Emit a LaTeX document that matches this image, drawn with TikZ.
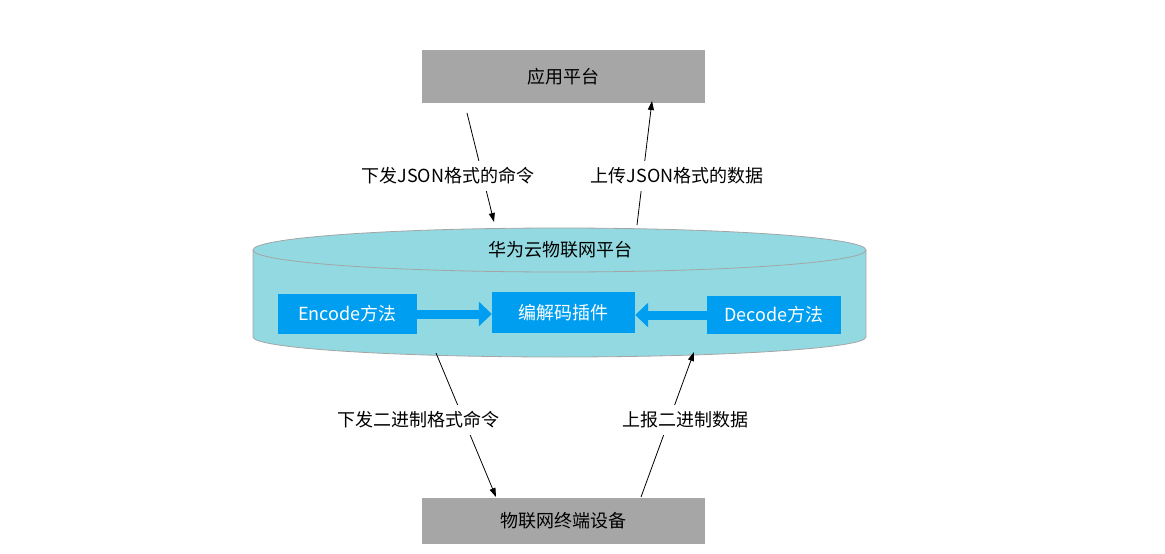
\documentclass[tikz,border=0pt]{standalone}
\usepackage{fontspec}
\setmainfont{Noto Sans CJK SC}
\usetikzlibrary{arrows.meta}
\definecolor{boxgray}{RGB}{166,166,166}
\definecolor{cylfill}{RGB}{146,217,225}
\definecolor{cyledge}{RGB}{165,165,165}
\definecolor{codeblue}{RGB}{0,158,240}

\begin{document}
\begin{tikzpicture}[x=1pt,y=-1pt,font=\fontsize{18}{21}\selectfont,
  greybox/.style={fill=boxgray,inner sep=0pt},
  bluebox/.style={fill=codeblue,text=white,inner sep=0pt},
  msg/.style={fill=white,inner xsep=2pt,inner ysep=7pt},
  link/.style={-{Triangle[length=9pt,width=6pt]},line width=0.8pt},
  fatarrow/.style={draw=codeblue,line width=9pt,-{Triangle[length=13pt,width=24pt]}}]
\useasboundingbox (0,0) rectangle (1165,554);
\fill[cylfill] (253,250) -- (253,337) arc[start angle=180,end angle=0,x radius=306.5,y radius=20] -- (866,250) -- cycle;
\draw[cyledge,line width=0.8pt] (253,250) -- (253,337) arc[start angle=180,end angle=0,x radius=306.5,y radius=20] -- (866,250);
\filldraw[fill=cylfill,draw=cyledge,line width=0.8pt] (559.5,250) ellipse[x radius=306.5,y radius=22];
\node (cloud) at (560,250) {华为云物联网平台};
\node[greybox,minimum width=283pt,minimum height=53pt] (app) at (563.5,76.5) {应用平台};
\node[greybox,minimum width=283pt,minimum height=46pt] (dev) at (563.5,521) {物联网终端设备};
\node[bluebox,minimum width=139pt,minimum height=40pt] (enc) at (347.5,314) {Encode方法};
\node[bluebox,minimum width=143pt,minimum height=41pt] (codec) at (563.5,312.5) {编解码插件};
\node[bluebox,minimum width=134pt,minimum height=38pt] (dec) at (774,315) {Decode方法};
\draw[fatarrow] (enc.east) -- (enc.east -| codec.west);
\draw[fatarrow] (dec.west) -- (dec.west -| codec.east);
\coordinate (downA) at (467,113);
\coordinate (downB) at (494,222);
\coordinate (upA) at (637,225);
\coordinate (upB) at (652,101);
\coordinate (binA) at (436,353);
\coordinate (binB) at (496,497);
\coordinate (repA) at (641,497);
\coordinate (repB) at (694,352);
\draw[link] (downA) -- (downB);
\draw[link] (upA) -- (upB);
\draw[link] (binA) -- (binB);
\draw[link] (repA) -- (repB);
\node[msg] (m1) at (448,176) {下发JSON格式的命令};
\node[msg] (m2) at (677,176) {上传JSON格式的数据};
\node[msg] (m3) at (418,420) {下发二进制格式命令};
\node[msg] (m4) at (685,420) {上报二进制数据};
\end{tikzpicture}
\end{document}
